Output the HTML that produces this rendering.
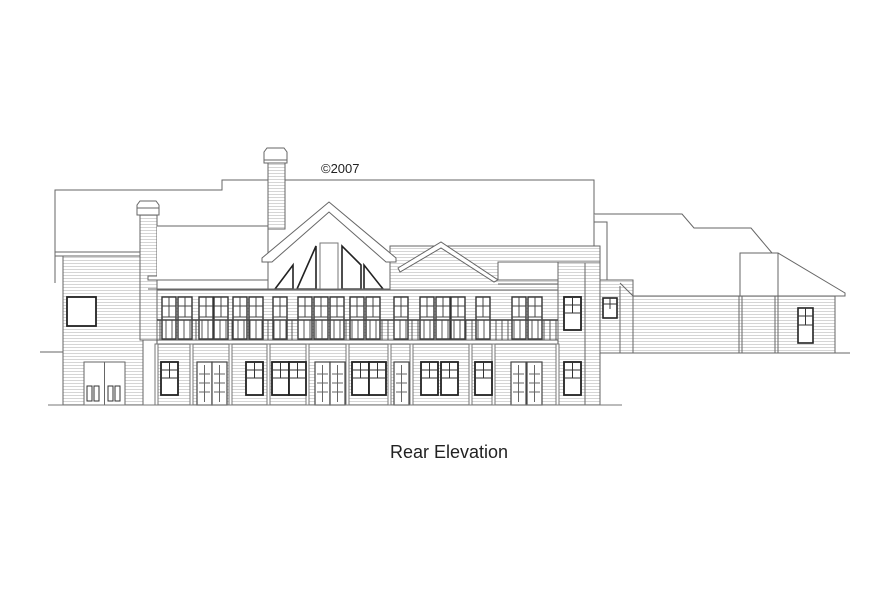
<!DOCTYPE html>
<html><head><style>
html,body{margin:0;padding:0;background:#fff;}
svg{display:block}
text{font-family:"Liberation Sans",sans-serif;fill:#222}
</style></head><body>
<svg width="891" height="593" viewBox="0 0 891 593" xmlns="http://www.w3.org/2000/svg">
<defs>
<pattern id="sd" width="4" height="3" patternUnits="userSpaceOnUse"><rect width="4" height="3" fill="#fff"/><line x1="0" y1="2.5" x2="4" y2="2.5" stroke="#c4c4c4" stroke-width="0.7"/></pattern>
<g id="win"><rect x="0" y="0" width="17" height="33" fill="#fff" stroke="#222" stroke-width="1.8"/><line x1="8.5" y1="0" x2="8.5" y2="16" stroke="#333"/><line x1="0" y1="8" x2="17" y2="8" stroke="#333"/><line x1="0" y1="16" x2="17" y2="16" stroke="#333"/></g>
<g id="fd"><rect x="0" y="0" width="15" height="43" fill="#fff" stroke="#444" stroke-width="1.2"/><line x1="7.5" y1="3" x2="7.5" y2="40" stroke="#666"/><line x1="2" y1="12" x2="13" y2="12" stroke="#666"/><line x1="2" y1="21" x2="13" y2="21" stroke="#666"/><line x1="2" y1="30" x2="13" y2="30" stroke="#666"/></g>
<g id="ud"><rect x="0" y="0" width="14" height="42" fill="#fff" stroke="#333" stroke-width="1.4"/><line x1="7" y1="0" x2="7" y2="20" stroke="#444"/><line x1="0" y1="9" x2="14" y2="9" stroke="#444"/><line x1="0" y1="20" x2="14" y2="20" stroke="#444"/></g>
</defs>
<g fill="none" stroke="#666" stroke-width="1">
<path d="M55,283 L55,190 L222,190 L222,180 L594,180 L594,260" fill="#fff"/>
<path d="M594,214 L682,214 L694,228 L751,228 L772,253 L778,253 L845,293 L845,296 L620,296" fill="#fff"/>
<path d="M594,222 L607,222 L607,280" />
<rect x="633" y="296" width="202" height="57" fill="url(#sd)"/>
<rect x="600" y="280" width="33" height="73" fill="url(#sd)"/>
<line x1="620" y1="283" x2="633" y2="296"/>
<line x1="620" y1="286" x2="620" y2="353"/>
<rect x="740" y="253" width="38" height="43" fill="#fff"/>
<line x1="739" y1="296" x2="739" y2="353"/><line x1="742" y1="296" x2="742" y2="353"/>
<line x1="775" y1="296" x2="775" y2="353"/><line x1="778" y1="296" x2="778" y2="353"/>
<line x1="600" y1="353" x2="850" y2="353"/>
<rect x="63" y="256" width="80" height="149" fill="url(#sd)"/>
<path d="M55,252 L143,252 L143,256 L55,256 Z" fill="#fff"/>
<line x1="40" y1="352" x2="63" y2="352"/>
<rect x="67" y="297" width="29" height="29" fill="#fff" stroke="#222" stroke-width="1.8"/>
<rect x="84" y="362" width="41" height="43" fill="#fff"/>
<line x1="104.5" y1="362" x2="104.5" y2="405"/>
<g stroke="#333"><rect x="87" y="386" width="5" height="15"/><rect x="94" y="386" width="5" height="15"/><rect x="108" y="386" width="5" height="15"/><rect x="115" y="386" width="5" height="15"/></g>
<rect x="140" y="215" width="17" height="125" fill="url(#sd)"/>
<path d="M137,215 L137,205 L140,201 L156,201 L159,205 L159,215 Z" fill="#fff"/>
<line x1="137" y1="208" x2="159" y2="208"/>
<path d="M157,226 L268,226 L268,280 L148,280 L148,276 L157,276" fill="#fff"/>
<rect x="268" y="163" width="17" height="66" fill="url(#sd)"/>
<path d="M264,163 L264,152 L267,148 L284,148 L287,152 L287,163 Z" fill="#fff"/>
<line x1="264" y1="160" x2="287" y2="160"/>
<rect x="390" y="246" width="210" height="159" fill="url(#sd)"/>
<path d="M498,262 L594,262 L594,280 L498,280 Z" fill="#fff"/>
<rect x="558" y="262" width="42" height="143" fill="url(#sd)"/>
<line x1="585" y1="263" x2="585" y2="405"/><line x1="600" y1="280" x2="600" y2="405"/>
<path d="M398,268 L441,242 L498,280 L494,282 L441,248 L400,272 Z" fill="#fff"/>
<line x1="498" y1="280" x2="558" y2="280"/>
<line x1="498" y1="284" x2="558" y2="284"/>
<path d="M268,258 L329,207 L390,258 L390,297 L268,297 Z" fill="#fff"/>
<path d="M262,258 L329,202 L396,258 L396,262 L386,262 L329,212 L272,262 L262,262 Z" fill="#fff"/>
<g stroke="#222" stroke-width="1.6" fill="#fff">
<path d="M275,289 L293,265 L293,289 Z"/>
<path d="M297,289 L316,246 L316,289 Z"/>
<rect x="320" y="243" width="18" height="46" stroke="#777" stroke-width="1"/>
<path d="M342,289 L342,246 L361,265 L361,289 Z"/>
<path d="M364,289 L364,265 L383,289 Z"/>
</g>
<rect x="157" y="290" width="401" height="50" fill="url(#sd)"/>
<line x1="148" y1="289" x2="390" y2="289"/>
<g fill="#fff">
<use href="#ud" x="162" y="297"/><use href="#ud" x="178" y="297"/><use href="#ud" x="199" y="297"/><use href="#ud" x="214" y="297"/>
<use href="#ud" x="233" y="297"/><use href="#ud" x="249" y="297"/><use href="#ud" x="273" y="297"/><use href="#ud" x="298" y="297"/>
<use href="#ud" x="314" y="297"/><use href="#ud" x="330" y="297"/><use href="#ud" x="350" y="297"/><use href="#ud" x="366" y="297"/>
<use href="#ud" x="394" y="297"/><use href="#ud" x="420" y="297"/><use href="#ud" x="436" y="297"/><use href="#ud" x="451" y="297"/>
<use href="#ud" x="476" y="297"/><use href="#ud" x="512" y="297"/><use href="#ud" x="528" y="297"/>
</g>
<g stroke="#444">
<line x1="157" y1="320" x2="558" y2="320" stroke-width="1.5"/>
<path d="M160,320V340M166,320V340M172,320V340M178,320V340M184,320V340M190,320V340M196,320V340M202,320V340M208,320V340M214,320V340M220,320V340M226,320V340M232,320V340M238,320V340M244,320V340M250,320V340M256,320V340M262,320V340M268,320V340M274,320V340M280,320V340M286,320V340M292,320V340M298,320V340M304,320V340M310,320V340M316,320V340M322,320V340M328,320V340M334,320V340M340,320V340M346,320V340M352,320V340M358,320V340M364,320V340M370,320V340M376,320V340M382,320V340M388,320V340M394,320V340M400,320V340M406,320V340M412,320V340M418,320V340M424,320V340M430,320V340M436,320V340M442,320V340M448,320V340M454,320V340M460,320V340M466,320V340M472,320V340M478,320V340M484,320V340M490,320V340M496,320V340M502,320V340M508,320V340M514,320V340M520,320V340M526,320V340M532,320V340M538,320V340M544,320V340M550,320V340M556,320V340" stroke-width="0.9"/>
</g>
<rect x="157" y="340" width="401" height="4" fill="#fff" stroke="#555"/>
<rect x="157" y="344" width="401" height="61" fill="url(#sd)"/>
<g fill="#fff" stroke="#777">
<rect x="155" y="344" width="3" height="61"/><rect x="190" y="344" width="3" height="61"/><rect x="229" y="344" width="3" height="61"/>
<rect x="267" y="344" width="3" height="61"/><rect x="306" y="344" width="3" height="61"/><rect x="346" y="344" width="3" height="61"/>
<rect x="388" y="344" width="3" height="61"/><rect x="410" y="344" width="3" height="61"/><rect x="469" y="344" width="3" height="61"/>
<rect x="492" y="344" width="3" height="61"/><rect x="556" y="344" width="3" height="61"/>
</g>
<use href="#win" x="161" y="362"/>
<use href="#fd" x="197" y="362"/><use href="#fd" x="212" y="362"/>
<use href="#win" x="246" y="362"/>
<use href="#win" x="272" y="362"/><use href="#win" x="289" y="362"/>
<use href="#fd" x="315" y="362"/><use href="#fd" x="330" y="362"/>
<use href="#win" x="352" y="362"/><use href="#win" x="369" y="362"/>
<use href="#fd" x="394" y="362"/>
<use href="#win" x="421" y="362"/><use href="#win" x="441" y="362"/>
<use href="#win" x="475" y="362"/>
<use href="#fd" x="511" y="362"/><use href="#fd" x="527" y="362"/>
<use href="#win" x="564" y="362"/>
<use href="#win" x="564" y="297"/>
<rect x="603" y="298" width="14" height="20" fill="#fff" stroke="#222" stroke-width="1.6"/>
<line x1="610" y1="298" x2="610" y2="309" stroke="#333"/><line x1="603" y1="304" x2="617" y2="304" stroke="#333"/>
<rect x="798" y="308" width="15" height="35" fill="#fff" stroke="#222" stroke-width="1.6"/>
<line x1="805.5" y1="308" x2="805.5" y2="325" stroke="#333"/><line x1="798" y1="316" x2="813" y2="316" stroke="#333"/><line x1="798" y1="325" x2="813" y2="325" stroke="#333"/>
<line x1="48" y1="405" x2="622" y2="405" stroke="#777"/>
</g>
<text x="321" y="173" font-size="13">©2007</text>
<text x="390" y="458" font-size="18">Rear Elevation</text>
</svg>
</body></html>
